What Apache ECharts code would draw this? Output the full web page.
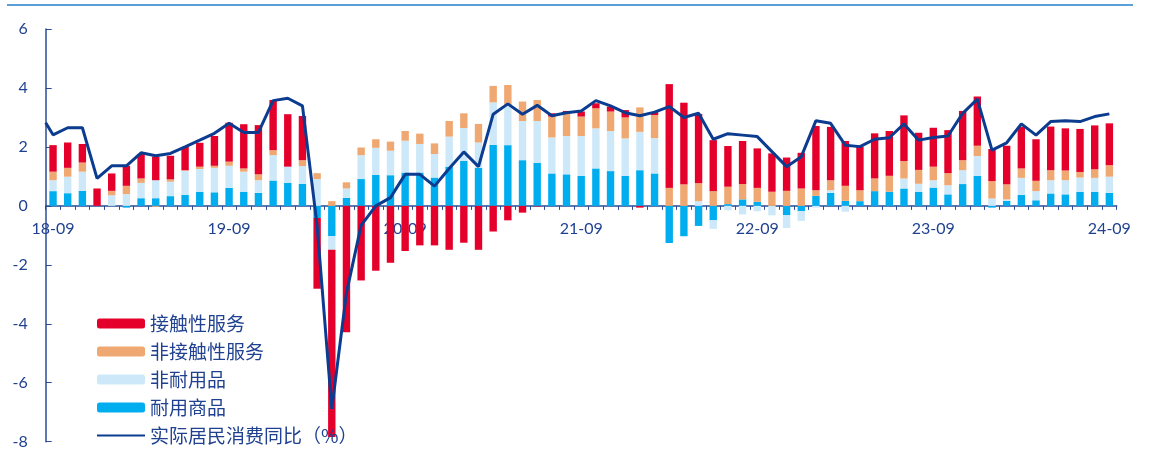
<!DOCTYPE html>
<html>
<head>
<meta charset="utf-8">
<script src="https://cdn.jsdelivr.net/npm/echarts@6/dist/echarts.min.js"></script>
<style>
html,body{margin:0;padding:0;background:#fff;}
#c{width:1149px;height:450px;}
</style>
</head>
<body>
<div id="c"></div>
<script>
// ---- data ----
const categories = [
 '18-09','18-10','18-11','18-12',
 '19-01','19-02','19-03','19-04','19-05','19-06','19-07','19-08','19-09','19-10','19-11','19-12',
 '20-01','20-02','20-03','20-04','20-05','20-06','20-07','20-08','20-09','20-10','20-11','20-12',
 '21-01','21-02','21-03','21-04','21-05','21-06','21-07','21-08','21-09','21-10','21-11','21-12',
 '22-01','22-02','22-03','22-04','22-05','22-06','22-07','22-08','22-09','22-10','22-11','22-12',
 '23-01','23-02','23-03','23-04','23-05','23-06','23-07','23-08','23-09','23-10','23-11','23-12',
 '24-01','24-02','24-03','24-04','24-05','24-06','24-07','24-08','24-09'
];
const seriesNames = ['接触性服务','非接触性服务','非耐用品','耐用商品','实际居民消费同比（%）'];

// 耐用商品
const durable = [0.50,0.43,0.51,0,0,-0.06,0.26,0.26,0.33,0.37,
 0.48,0.46,0.61,0.48,0.44,0.86,0.78,0.75,-0.41,-1.03,
 0.27,0.91,1.05,1.04,1.13,1.13,0.96,1.33,1.53,1.29,
 2.07,2.06,1.55,1.46,1.10,1.07,1.02,1.27,1.18,1.02,
 1.21,1.10,-1.26,-1.03,-0.68,-0.49,0.06,0.22,0.14,0,
 -0.32,-0.18,0.34,0.44,0.17,0.16,0.50,0.48,0.59,0.48,
 0.62,0.39,0.74,1.02,-0.06,0.17,0.37,0.19,0.42,0.39,
 0.48,0.48,0.44];
// 非耐用品
const nondurable = [0.37,0.56,0.65,0,0.36,0.40,0.52,0.61,0.49,0.82,
 0.77,0.83,0.75,0.68,0.43,0.86,0.55,0.60,0.91,-0.46,
 0.32,0.81,0.92,0.83,1.08,0.97,0.80,1.02,1.11,0.86,
 1.44,1.33,1.33,1.42,1.22,1.30,1.35,1.36,1.36,1.27,
 1.30,1.20,0,0,0.16,-0.29,-0.15,-0.29,-0.18,-0.32,
 -0.43,-0.33,-0.06,0.09,-0.20,0,0,0,0.34,0.27,
 0.25,0.31,0.47,0.67,0.25,0.05,0.58,0.31,0.45,0.48,
 0.48,0.47,0.55];
// 非接触性服务
const nonContact = [0.29,0.30,0.31,0,0.15,0.28,0.15,-0.03,0.08,0.02,
 0.08,0.07,0.14,0.11,0.20,0.17,0,0.20,0.20,0.16,
 0.21,0.26,0.29,0.31,0.33,0.35,0.36,0.53,0.50,0.63,
 0.56,0.71,0.66,0.71,0.71,0.77,0.66,0.68,0.66,0.71,
 0.83,0.78,0.61,0.73,0.61,0.50,0.59,0.52,0.47,0.48,
 0.51,0.59,0.19,0.34,0.51,0.37,0.43,0.54,0.59,0.47,
 0.46,0.41,0.34,0.35,0.59,0.51,0.32,0.35,0.34,0.33,
 0.19,0.29,0.39];
// 接触性服务
const contact = [0.90,0.86,0.63,0.59,0.59,0.68,0.83,0.80,0.80,0.79,
 0.81,1.01,1.32,1.50,1.67,1.70,1.78,1.50,-2.40,-6.35,
 -4.29,-2.53,-2.20,-1.93,-1.53,-1.34,-1.34,-1.49,-1.25,-1.49,
 -0.87,-0.49,-0.23,-0.02,0.11,0.08,0.17,0.17,0.17,0.25,
 -0.06,0.10,3.52,2.77,2.35,1.73,1.38,1.46,1.34,1.30,
 1.13,1.21,2.18,1.81,1.52,1.48,1.53,1.52,1.55,1.26,
 1.32,1.46,1.67,1.67,1.09,1.31,1.42,1.41,1.48,1.43,
 1.46,1.49,1.42];
// 实际居民消费同比（%）: value of the month before the first category, then one per category
const consumptionLead = 2.82;
const consumption = [2.41,2.65,2.65,0.93,1.36,1.36,1.80,1.70,1.78,2.00,
 2.23,2.46,2.80,2.49,2.49,3.57,3.65,3.39,-0.67,-6.89,
 -2.95,-0.66,0.00,0.28,1.07,1.07,0.67,1.27,1.83,1.33,
 3.11,3.46,3.11,3.41,3.06,3.16,3.22,3.57,3.39,3.16,
 3.06,3.18,3.37,3.00,3.14,2.26,2.45,2.40,2.35,1.84,
 1.33,1.67,2.89,2.80,2.06,2.01,2.26,2.31,2.78,2.23,
 2.32,2.37,3.14,3.62,1.89,2.14,2.78,2.40,2.86,2.89,
 2.86,3.03,3.12];
const yTicks = {min: -8, max: 6, step: 2};

// ---- layout / style ----
const W = 1149, H = 450;
const gridBox = {left: 45.7, right: 32.3, top: 29, bottom: 8.3};
const plotH = H - gridBox.top - gridBox.bottom;
// pixel row of value 0 (where the category axis sits)
const zeroY = gridBox.top + plotH * yTicks.max / (yTicks.max - yTicks.min);

const axisColor = '#2a4c98';
const textColor = '#1f4190';
const colors = {contact:'#e5002b', nonContact:'#f0a872', nondurable:'#cde9f9', durable:'#00aeef', line:'#0b3c8f'};

const linePoints = [[-0.5, consumptionLead]].concat(consumption.map((v, i) => [i, v]));

const legendData = seriesNames.map((n, i) =>
  i === seriesNames.length - 1 ? {name: n, itemStyle: {opacity: 0}} : {name: n});

const chart = echarts.init(document.getElementById('c'), null, {renderer: 'canvas'});
chart.setOption({
  animation: false,
  backgroundColor: '#ffffff',
  graphic: [{
    type: 'line', shape: {x1: 7, y1: 5, x2: 1133, y2: 5},
    style: {stroke: '#5b9fd6', lineWidth: 2}, silent: true
  }],
  grid: [
    Object.assign({containLabel: false, outerBoundsMode: 'none'}, gridBox),
    {left: gridBox.left, right: gridBox.right, top: gridBox.top, bottom: H - zeroY,
     containLabel: false, outerBoundsMode: 'none'}
  ],
  legend: {
    orient: 'vertical', left: 96, top: 314, padding: 0,
    itemWidth: 48, itemHeight: 10, itemGap: 9,
    data: legendData,
    textStyle: {fontFamily: '"Noto Sans CJK SC"', fontSize: 19, color: textColor}
  },
  xAxis: [{
    // bars
    gridIndex: 0, type: 'category', data: categories, boundaryGap: true, show: false
  }, {
    // visible category axis along the zero line
    gridIndex: 1, type: 'category', data: categories, boundaryGap: true, position: 'bottom',
    axisLine: {onZero: false, lineStyle: {color: axisColor, width: 1.5}},
    axisTick: {show: true, interval: 0, length: 4, lineStyle: {color: axisColor, width: 1}},
    axisLabel: {interval: (idx) => idx % 12 === 0, margin: 15, fontSize: 16,
      fontFamily: 'Lato', color: textColor, hideOverlap: false},
    splitLine: {show: false}
  }, {
    // line series (continuous positions over the same categories)
    gridIndex: 0, type: 'value', min: -0.5, max: categories.length - 0.5, show: false
  }],
  yAxis: [{
    gridIndex: 0, type: 'value', min: yTicks.min, max: yTicks.max, interval: yTicks.step,
    axisLine: {show: true, onZero: false, lineStyle: {color: axisColor, width: 1.5}},
    axisTick: {show: true, inside: true, length: 6, lineStyle: {color: axisColor, width: 1}},
    axisLabel: {margin: 18, fontSize: 16, fontFamily: 'Lato', color: textColor},
    splitLine: {show: false}
  }, {
    gridIndex: 1, type: 'value', min: 0, max: yTicks.max, show: false
  }],
  series: [
    {name: '耐用商品', type: 'bar', stack: 'a', data: durable, barWidth: 7.4,
     xAxisIndex: 0, yAxisIndex: 0, itemStyle: {color: colors.durable}},
    {name: '非耐用品', type: 'bar', stack: 'a', data: nondurable, barWidth: 7.4,
     xAxisIndex: 0, yAxisIndex: 0, itemStyle: {color: colors.nondurable}},
    {name: '非接触性服务', type: 'bar', stack: 'a', data: nonContact, barWidth: 7.4,
     xAxisIndex: 0, yAxisIndex: 0, itemStyle: {color: colors.nonContact}},
    {name: '接触性服务', type: 'bar', stack: 'a', data: contact, barWidth: 7.4,
     xAxisIndex: 0, yAxisIndex: 0, itemStyle: {color: colors.contact}},
    {name: '实际居民消费同比（%）', type: 'line', xAxisIndex: 2, yAxisIndex: 0, data: linePoints,
     symbol: 'none', lineStyle: {color: colors.line, width: 3}, itemStyle: {color: colors.line}, z: 5}
  ]
});
</script>
</body>
</html>
